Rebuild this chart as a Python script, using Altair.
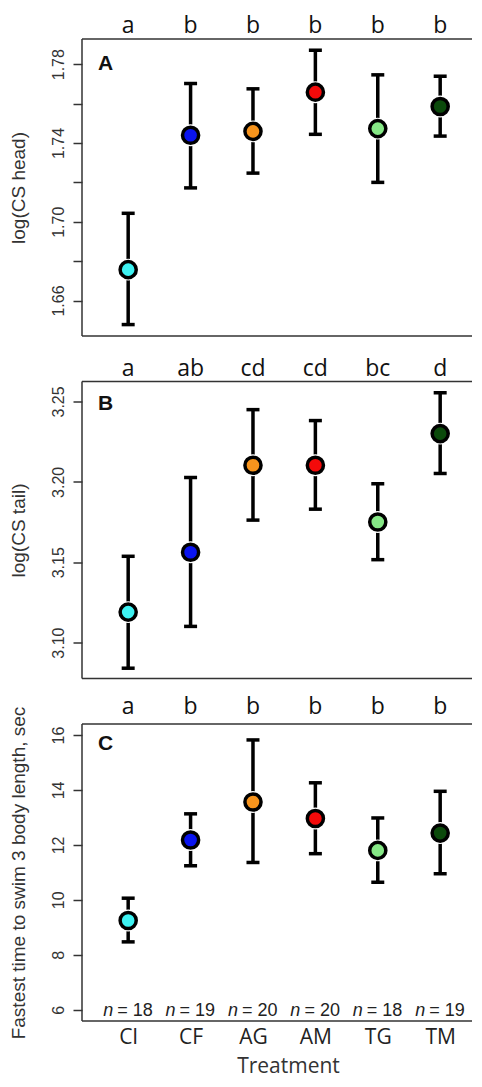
import altair as alt
import pandas as pd

treatments = ["CI", "CF", "AG", "AM", "TG", "TM"]
colors = ["#3EF2F2", "#0A14F0", "#F7941D", "#F40A0A", "#86E886", "#0B4A0B"]
n_obs = [18, 19, 20, 20, 18, 19]

head_mean = [1.6757, 1.7439, 1.7459, 1.7658, 1.7473, 1.7585]
head_lo = [1.6478, 1.7172, 1.7247, 1.7444, 1.7200, 1.7435]
head_hi = [1.7043, 1.7702, 1.7675, 1.7871, 1.7746, 1.7739]
head_letters = ["a", "b", "b", "b", "b", "b"]

tail_mean = [3.1190, 3.1562, 3.2103, 3.2103, 3.1750, 3.2300]
tail_lo = [3.0841, 3.1101, 3.1762, 3.1830, 3.1516, 3.2052]
tail_hi = [3.1537, 3.2027, 3.2449, 3.2381, 3.1988, 3.2554]
tail_letters = ["a", "ab", "cd", "cd", "bc", "d"]

swim_mean = [9.25, 12.18, 13.56, 12.96, 11.80, 12.43]
swim_lo = [8.47, 11.24, 11.36, 11.68, 10.64, 10.95]
swim_hi = [10.06, 13.13, 15.82, 14.26, 12.98, 13.95]
swim_letters = ["a", "b", "b", "b", "b", "b"]

head_ticks = [1.66, 1.68, 1.70, 1.72, 1.74, 1.76, 1.78]
tail_ticks = [3.10, 3.15, 3.20, 3.25]
swim_ticks = [6, 8, 10, 12, 14, 16]

W = 390
H = 297
AX = "#333333"
LAB_FONT = "Liberation Sans"
TXT_FONT = "Open Sans"
XMAX = 0.26 + W / 62.4

label_list = "[" + ",".join("'%s'" % t for t in treatments) + "]"


def panel(mean, lo, hi, letters, dom, ticks, label_expr, title, tag, tag_y, letter_y, bottom):
    df = pd.DataFrame({
        "idx": list(range(1, len(treatments) + 1)),
        "trt": treatments,
        "mean": mean,
        "lo": lo,
        "hi": hi,
        "letter": letters,
        "n": ["= %d" % v for v in n_obs],
    })
    xscale = alt.Scale(domain=[0.26, XMAX], nice=False, zero=False)
    if bottom:
        xaxis = alt.Axis(values=list(range(1, 7)), labelExpr=label_list + "[datum.value-1]",
                         ticks=False, domain=False, grid=False, labelFont=TXT_FONT,
                         labelFontSize=21, labelColor="#222", labelPadding=5,
                         labelBaseline="top", title="Treatment", titleFont=TXT_FONT,
                         titleFontSize=21, titleFontWeight="normal", titleColor="#333",
                         titleX=206, titleY=51, titleBaseline="alphabetic", titleAlign="center")
    else:
        xaxis = None
    yscale = alt.Scale(domain=dom, nice=False, zero=False)
    yaxis = alt.Axis(values=ticks, labelExpr=label_expr, grid=False, domain=False,
                     tickSize=9, tickWidth=1.5, tickColor=AX, labelAngle=270,
                     labelAlign="center", labelBaseline="alphabetic", labelPadding=10,
                     labelFont=LAB_FONT, labelFontSize=16, labelColor=AX, labelOverlap=False,
                     title=title, titleFont=LAB_FONT, titleFontSize=19, titleFontWeight="normal",
                     titleColor=AX, titleAngle=270, titleX=-64, titleY=H / 2,
                     titleAlign="center", titleBaseline="middle")
    x = alt.X("idx:Q", scale=xscale, axis=xaxis)
    base = alt.Chart(df)
    bars = base.mark_rule(color="black", strokeWidth=3.5).encode(
        x=x, y=alt.Y("lo:Q", scale=yscale, axis=yaxis), y2="hi:Q")
    cap_lo = base.mark_tick(orient="horizontal", size=13, thickness=3.5, color="black", opacity=1).encode(
        x=x, y=alt.Y("lo:Q", scale=yscale, axis=yaxis))
    cap_hi = base.mark_tick(orient="horizontal", size=13, thickness=3.5, color="black", opacity=1).encode(
        x=x, y=alt.Y("hi:Q", scale=yscale, axis=yaxis))
    halo = base.mark_circle(color="white", size=480, opacity=1).encode(
        x=x, y=alt.Y("mean:Q", scale=yscale, axis=yaxis))
    pts = base.mark_circle(stroke="black", strokeWidth=3.5, size=260, opacity=1).encode(
        x=x, y=alt.Y("mean:Q", scale=yscale, axis=yaxis),
        color=alt.Color("trt:N", scale=alt.Scale(domain=treatments, range=colors), legend=None))
    lets = base.mark_text(font=TXT_FONT, fontSize=23, baseline="alphabetic", align="center",
                          color="#111").encode(x=x, y=alt.value(letter_y), text="letter:N")
    tagdf = pd.DataFrame({"t": [tag]})
    one = alt.Chart(tagdf)
    tagm = one.mark_text(font=LAB_FONT, fontSize=21, fontWeight="bold",
                         align="left", baseline="alphabetic", color="#111").encode(
        x=alt.value(16), y=alt.value(tag_y), text="t:N")
    top_b = one.mark_rule(color=AX, strokeWidth=1.5).encode(
        x=alt.value(0), x2=alt.value(W), y=alt.value(0))
    bot_b = one.mark_rule(color=AX, strokeWidth=1.5).encode(
        x=alt.value(0), x2=alt.value(W), y=alt.value(H))
    left_b = one.mark_rule(color=AX, strokeWidth=1.5).encode(
        x=alt.value(0), y=alt.value(0), y2=alt.value(H))
    layers = [bars, cap_lo, cap_hi, halo, pts, lets, tagm, top_b, bot_b, left_b]
    if bottom:
        nn = base.mark_text(font=LAB_FONT, fontSize=18, fontStyle="italic", align="right",
                            baseline="alphabetic", dx=-15, color="#222").encode(
            x=x, y=alt.value(H - 5), text=alt.value("n"))
        nv = base.mark_text(font=LAB_FONT, fontSize=18, align="left",
                            baseline="alphabetic", dx=-11, color="#222").encode(
            x=x, y=alt.value(H - 5), text="n:N")
        layers += [nn, nv]
    return alt.layer(*layers).properties(width=W, height=H)


pA = panel(head_mean, head_lo, head_hi, head_letters, [1.642, 1.7928], head_ticks,
           "round(datum.value*100) % 4 == 2 ? format(datum.value, '.2f') : ''",
           "log(CS head)", "A", 31, -6, False)
pB = panel(tail_mean, tail_lo, tail_hi, tail_letters, [3.0777, 3.2624], tail_ticks,
           "format(datum.value, '.2f')", "log(CS tail)", "B", 28, -6, False)
pC = panel(swim_mean, swim_lo, swim_hi, swim_letters, [5.59, 16.4], swim_ticks,
           "format(datum.value, 'd')", "Fastest time to swim 3 body length, sec", "C", 26, -10, True)

chart = alt.vconcat(pA, pB, pC, spacing=45.5, bounds="flush").properties(
    padding={"left": 0, "top": 7, "right": 0, "bottom": 2}
).configure_view(strokeWidth=0)

chart.save("out.html", embed_options={"renderer": "svg", "actions": False})
